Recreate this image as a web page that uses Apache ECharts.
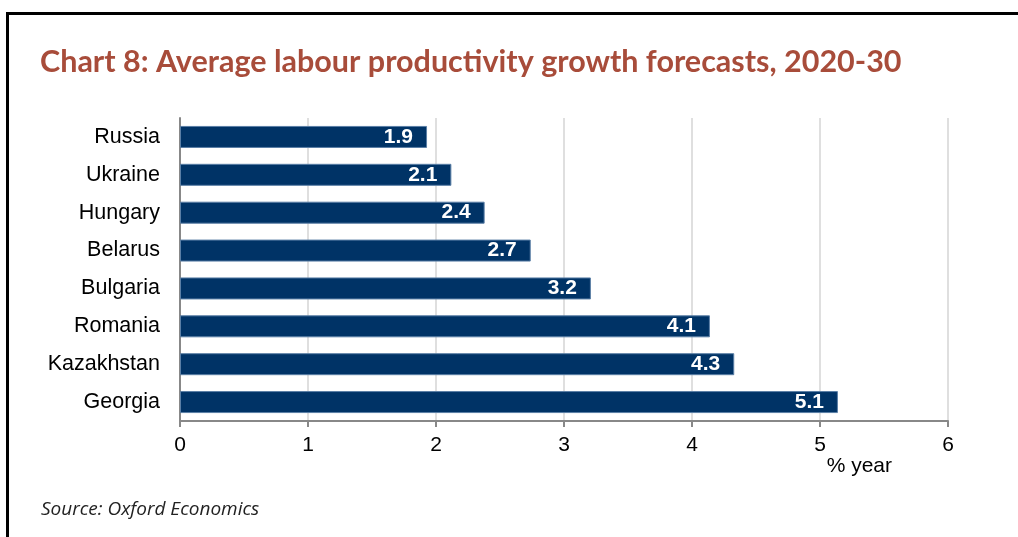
<!DOCTYPE html>
<html>
<head>
<meta charset="utf-8">
<script src="https://cdn.jsdelivr.net/npm/echarts@6/dist/echarts.min.js"></script>
<style>
    html, body { margin: 0; padding: 0; background: #fff; }
    #frame {
        position: absolute; left: 6px; top: 12px; width: 1012px; height: 525px;
        border-top: 3px solid #000; border-left: 3px solid #000; box-sizing: border-box;
    }
    #chart { position: absolute; left: 0; top: 0; width: 1018px; height: 537px; }
</style>
</head>
<body>
<div id="frame"></div>
<div id="chart"></div>
<script>
// 国家 (top to bottom as drawn)
var countries = ['Russia', 'Ukraine', 'Hungary', 'Belarus', 'Bulgaria', 'Romania', 'Kazakhstan', 'Georgia'];
// % year
var growth = [1.93, 2.12, 2.38, 2.74, 3.21, 4.14, 4.33, 5.14];
var xTicks = [0, 1, 2, 3, 4, 5, 6];

(function () {
    var chartInstance = echarts.init(document.getElementById('chart'));

    var option = {
        animation: false,
        title: [
            {
                text: 'Chart 8: Average labour productivity growth forecasts, 2020-30',
                left: 35,
                top: 42,
                textStyle: {
                    fontFamily: 'Lato',
                    fontWeight: 'bold',
                    fontSize: 30.5,
                    color: '#a84c3a'
                }
            },
            {
                text: 'Source: Oxford Economics',
                left: 36,
                top: 495,
                textStyle: {
                    fontFamily: 'Open Sans',
                    fontStyle: 'italic',
                    fontWeight: 'normal',
                    fontSize: 19,
                    color: '#222'
                }
            }
        ],
        grid: {
            left: 180,
            right: 70,
            top: 118,
            bottom: 116,
            containLabel: false
        },
        xAxis: {
            type: 'value',
            min: xTicks[0],
            max: xTicks[xTicks.length - 1],
            interval: 1,
            name: '% year',
            nameLocation: 'end',
            nameGap: 0,
            nameTextStyle: {
                fontFamily: 'Liberation Sans',
                fontSize: 21,
                color: '#000',
                align: 'right',
                verticalAlign: 'top',
                padding: [35, 56, 0, 0]
            },
            axisLine: { show: true, lineStyle: { color: '#888', width: 2 } },
            axisTick: { show: true, length: 6, lineStyle: { color: '#888', width: 2 } },
            axisLabel: {
                fontFamily: 'Liberation Sans',
                fontSize: 21,
                color: '#000',
                margin: 14
            },
            splitLine: { show: true, lineStyle: { color: '#d4d4d4', width: 1.5 } }
        },
        yAxis: {
            type: 'category',
            inverse: true,
            data: countries,
            axisLine: { show: true, lineStyle: { color: '#888', width: 2 } },
            axisTick: { show: false },
            axisLabel: {
                fontFamily: 'Liberation Sans',
                fontSize: 21.5,
                color: '#000',
                margin: 20
            }
        },
        series: [
            {
                type: 'bar',
                data: growth,
                barWidth: 22,
                itemStyle: {
                    color: '#003366',
                    borderColor: '#5a7fa6',
                    borderWidth: 1
                },
                label: {
                    show: true,
                    position: 'insideRight',
                    distance: 14,
                    fontFamily: 'Liberation Sans',
                    fontWeight: 'bold',
                    fontSize: 21,
                    color: '#fff',
                    formatter: function (p) {
                        return p.value.toFixed(1);
                    }
                }
            }
        ]
    };

    chartInstance.setOption(option);
})();
</script>
</body>
</html>
